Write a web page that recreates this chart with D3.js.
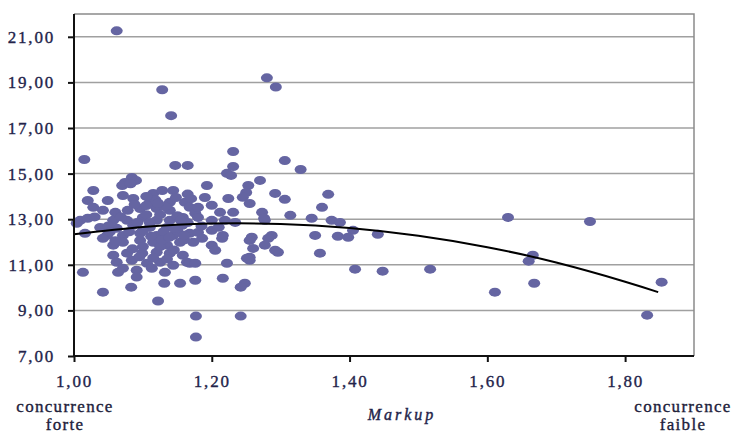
<!DOCTYPE html>
<html><head><meta charset="utf-8">
<script src="https://cdn.jsdelivr.net/npm/d3@7"></script>
<style>
body{margin:0;background:#fff;}
svg text{font-family:"Liberation Serif","DejaVu Serif",serif;fill:#23234a;}
</style></head>
<body><svg id="c" width="733" height="435"></svg>
<script>
// Data
const xTicks = [1.00, 1.20, 1.40, 1.60, 1.80];
const yTicks = [7, 9, 11, 13, 15, 17, 19, 21];
const markupX = [
1.062,1.128,1.141,1.280,1.293,1.015,1.147,1.165,1.231,1.231,1.306,1.329,
1.084,1.074,1.070,1.028,1.020,1.049,1.071,1.086,1.115,1.128,1.144,1.110,1.139,1.161,
1.028,1.042,1.060,1.078,1.096,1.120,1.139,1.168,
1.009,1.020,1.057,1.077,1.100,1.120,1.139,1.158,1.176,
1.004,1.038,1.062,1.086,1.110,1.135,1.157,
1.016,1.048,1.071,1.096,1.120,1.144,1.168,
1.042,1.057,1.071,1.096,1.115,1.135,1.154,1.173,
1.057,1.077,1.099,1.120,1.139,1.158,
1.062,1.084,1.106,1.125,1.144,
1.071,1.091,1.113,1.132,1.164,
1.013,1.042,1.064,1.083,1.091,1.131,1.154,1.176,1.122,1.177,1.177,1.168,
1.216,1.248,1.242,1.242,1.222,1.255,1.255,1.357,1.296,
1.222,1.228,1.193,1.270,1.253,1.250,1.245,1.292,1.306,1.369,1.360,1.224,1.255,1.200,1.180,
1.212,1.231,1.273,1.314,1.345,1.374,
1.180,1.200,1.219,1.234,1.277,
1.180,1.200,1.216,1.258,1.287,1.350,
1.186,1.215,1.200,1.205,1.255,1.282,1.260,1.292,1.251,1.176,
1.276,1.386,1.405,1.441,1.383,1.398,1.277,1.408,1.448,
1.630,1.749,1.666,1.660,1.668,1.611,1.832,1.853,1.517,
1.090,1.082,1.105,1.125,1.150,1.100,1.130,1.150,1.110,1.080,1.060,1.100,1.125,1.145,1.085,1.115,1.135,1.095,1.050,1.030,1.160,1.185,1.210,1.165,1.190,1.165,1.170,
1.105,1.118,1.132,1.148,1.112,1.128,1.092,1.155,1.138,1.122,1.105,1.088,1.145,1.160,1.068,1.052
];
const competitionY = [
21.26,18.68,17.54,19.20,18.80,15.62,15.36,15.36,15.97,15.31,15.57,15.18,
14.83,14.61,14.48,14.26,13.82,13.82,14.04,13.91,14.13,14.26,14.26,13.74,13.74,13.74,
13.52,13.39,13.30,13.39,13.47,13.47,13.39,13.52,
12.95,13.04,12.95,12.95,13.08,12.95,12.95,13.08,13.26,
12.82,12.64,12.60,12.73,12.64,12.64,12.73,
12.38,12.29,12.29,12.38,12.29,12.29,12.38,
12.16,11.86,11.99,12.07,11.99,11.86,11.99,11.99,
11.42,11.51,11.51,11.55,11.51,11.42,
11.11,11.20,11.07,11.11,10.98,
10.85,10.76,10.85,10.67,11.11,
10.67,9.80,10.67,10.02,10.46,10.19,10.19,10.32,9.41,8.75,7.83,11.07,
10.41,10.19,10.02,8.75,11.07,11.20,11.33,11.51,11.55,
15.01,14.92,14.48,14.70,14.48,14.17,13.96,14.13,13.87,14.09,13.52,13.91,13.69,13.61,13.52,
13.30,13.30,13.30,13.17,13.04,12.95,
13.08,12.95,12.95,12.86,12.95,
12.42,12.51,12.29,12.21,12.29,12.29,
12.16,12.16,11.86,11.64,12.07,12.16,11.72,11.64,11.29,11.07,
13.04,12.86,12.51,12.34,12.25,12.21,11.86,10.81,10.72,
13.08,12.90,11.42,11.16,10.19,9.80,8.79,10.24,10.81,
14.70,14.55,13.20,13.20,13.15,12.50,12.45,12.50,12.85,12.45,12.05,11.80,11.80,11.65,11.70,11.30,11.25,11.35,12.70,13.10,12.10,12.70,12.65,12.85,13.95,14.10,13.90,
13.60,13.85,13.55,13.95,12.25,12.10,12.85,12.95,12.20,13.70,14.00,13.65,12.60,12.30,13.10,12.45
];
// trend curve
const trendX = [1.00, 1.10, 1.20, 1.30, 1.40, 1.50, 1.60, 1.70, 1.80, 1.848];
const trendY = [12.34, 12.66, 12.81, 12.79, 12.61, 12.27, 11.77, 11.10, 10.26, 9.80];

const svg = d3.select("#c");
const L = 74, R = 694, T = 14, B = 356;
const x = d3.scaleLinear().domain([1.0, 1.9]).range([L, R]);
const y = d3.scaleLinear().domain([7, 22]).range([B, T]);
const fmt = d => d3.format(".2f")(d).replace(".", ",");
const ink = "#23234a";

// gridlines
svg.append("g").selectAll("line").data(yTicks.filter(v => v > 7)).join("line")
  .attr("x1", L).attr("x2", R).attr("y1", d => y(d)).attr("y2", d => y(d))
  .attr("stroke", "#a0a0a0").attr("stroke-width", 1.5);
// frame top/right
svg.append("path").attr("d", `M${L},${T}H${R}V${B}`).attr("fill", "none")
  .attr("stroke", "#8a8a8a").attr("stroke-width", 1.5);

// points
const pts = markupX.map((v, i) => [v, competitionY[i]]);
svg.append("g").selectAll("ellipse").data(pts).join("ellipse")
  .attr("cx", d => x(d[0])).attr("cy", d => y(d[1]))
  .attr("rx", 6).attr("ry", 4.5).attr("fill", "#6565a2");

// trend
const tr = trendX.map((v, i) => [v, trendY[i]]);
svg.append("path").datum(tr)
  .attr("d", d3.line().x(d => x(d[0])).y(d => y(d[1])).curve(d3.curveNatural))
  .attr("fill", "none").attr("stroke", "#000").attr("stroke-width", 2);

// axes
const ya = svg.append("g").attr("transform", `translate(${L},0)`)
  .call(d3.axisLeft(y).tickValues(yTicks).tickFormat(fmt).tickSize(6).tickPadding(13));
const xa = svg.append("g").attr("transform", `translate(0,${B})`)
  .call(d3.axisBottom(x).tickValues(xTicks).tickFormat(fmt).tickSize(6).tickPadding(13));
[ya, xa].forEach(a => {
  a.select(".domain").attr("stroke", "#111").attr("stroke-width", 2);
  a.selectAll(".tick line").attr("stroke", "#111").attr("stroke-width", 2);
  a.selectAll("text").style("font-family", '"Liberation Serif",serif')
   .style("font-size", "17px").style("letter-spacing", "1.8px")
   .attr("fill", ink).attr("stroke", ink).attr("stroke-width", 0.35);
});
xa.select(".domain").attr("d", `M${L},0H${R}`);
ya.select(".domain").attr("d", `M0,${B}V${T}`);

// labels
svg.append("text").attr("x", 402).attr("y", 420).attr("text-anchor", "middle")
  .style("font-style", "italic").style("font-size", "16px").style("letter-spacing", "3px")
  .attr("stroke", ink).attr("stroke-width", 0.4).text("Markup");
const lab = (cx, lines) => lines.forEach((t, i) => svg.append("text").attr("x", cx).attr("y", 412 + i * 18)
  .attr("text-anchor", "middle").style("font-size", "17px").style("letter-spacing", "1.3px")
  .attr("fill", "#1a1a2a").attr("stroke", "#1a1a2a").attr("stroke-width", 0.35).text(t));
lab(65, ["concurrence", "forte"]);
lab(683, ["concurrence", "faible"]);
</script></body></html>
